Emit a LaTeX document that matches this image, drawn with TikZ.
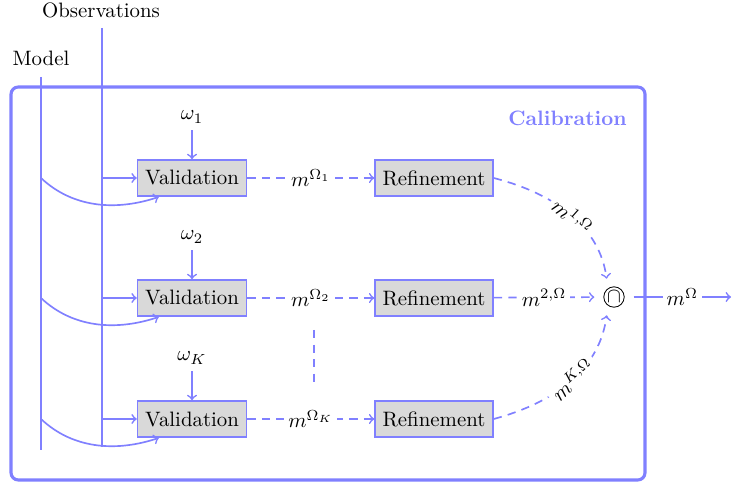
\documentclass[tikz,border=0pt]{standalone}
\usetikzlibrary{calc}
\begin{document}
\begin{tikzpicture}[x=0.48pt,y=-0.48pt,
  flow/.style={draw=blue!50,line width=0.8pt},
  dflow/.style={draw=blue!50,line width=0.8pt,dash pattern=on 4pt off 3pt,->},
  procbox/.style={draw=blue!50,line width=0.8pt,fill=gray!30,minimum height=17.3pt,inner xsep=3.6pt},
  lbl/.style={fill=white,inner sep=2pt},
  frame/.style={draw=blue!50,line width=1.5pt,rounded corners=3.5pt}]
\useasboundingbox (0,0) rectangle (732,487);
% frame
\draw[frame] (11,87) rectangle (645,480);
\node[anchor=east,text=blue!50,font=\bfseries,inner sep=0pt] (cal) at (627,118) {Calibration};
% inputs
\node (obs) at (101,10) {Observations};
\node (mod) at (41,58) {Model};
\coordinate (obsT) at (102,28);
\coordinate (obsB) at (102,447);
\coordinate (modT) at (41,77);
\coordinate (modB) at (41,450);
\draw[flow] (obsT) -- (obsB);
\draw[flow] (modT) -- (modB);
% rows
\foreach \i/\y/\w/\o in {1/178/\omega_1/\Omega_1, 2/298/\omega_2/\Omega_2, 3/419/\omega_K/\Omega_K}{
  \node[procbox] (v\i) at (192,\y) {Validation};
  \node[procbox] (r\i) at (434,\y) {Refinement};
  \node (w\i) at (192,\y-61) {$\w$};
  \draw[flow,->] (w\i) -- (v\i);
  \coordinate (o\i) at (102,\y);
  \coordinate (m\i) at (41,\y);
  \draw[flow,->] (o\i) -- (v\i);
  \draw[flow,->] (m\i) .. controls (75,\y+32) and (120,\y+32) .. ($(v\i.south west)!0.2!(v\i.south east)$);
  \draw[dflow] (v\i) -- node[lbl]{$m^{\o}$} (r\i);
}
% vertical ellipsis
\coordinate (d1) at (314,330);
\coordinate (d2) at (314,388);
\draw[flow,dash pattern=on 4pt off 3pt] (d1) -- (d2);
% intersection
\node[circle,draw=black,line width=0.4pt,inner sep=0.4pt] (capsym) at (614,297) {$\cap$};
\node[circle,minimum size=18.5pt,inner sep=0pt] (cap) at (capsym) {};
\draw[dflow] (r2) -- node[lbl]{$m^{2,\Omega}$} (cap);
\draw[dflow] (r1.east) .. controls (560,195) and (600,230) .. node[lbl,sloped,pos=0.5]{$m^{1,\Omega}$} (cap.112);
\draw[dflow] (r3.east) .. controls (560,401) and (600,366) .. node[lbl,sloped,pos=0.5]{$m^{K,\Omega}$} (cap.-112);
\coordinate (out) at (731,297);
\draw[flow,->] (cap) -- node[lbl]{$m^{\Omega}$} (out);
\end{tikzpicture}
\end{document}
